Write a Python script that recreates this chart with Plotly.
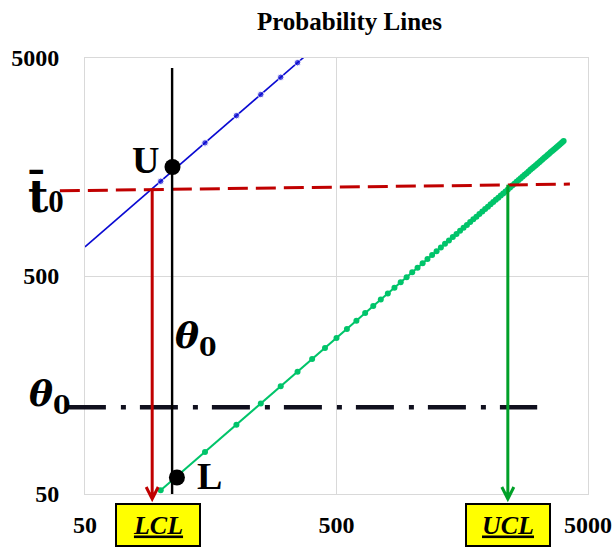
import numpy as np
import plotly.graph_objects as go

# ---- data -------------------------------------------------------------
tick_vals = [50, 500, 5000]
tick_text = ["50", "500", "5000"]

# upper probability line (blue)
blue_x = [50, 100, 150, 200, 250, 300, 350, 400]
blue_y = [680, 1360, 2040, 2720, 3400, 4080, 4760, 5440]

# lower probability line (green)
green_x = [100, 150, 200, 250, 300, 350, 400, 450, 500, 550, 600, 650, 700,
           750, 800, 850, 900, 950, 1000, 1050, 1100, 1150, 1200, 1250, 1300,
           1350, 1400, 1450, 1500, 1550, 1600, 1650, 1700, 1750, 1800, 1850,
           1900, 1950, 2000, 2050, 2100, 2150, 2200, 2250, 2300, 2350, 2400,
           2450, 2500, 2550, 2600, 2650, 2700, 2750, 2800, 2850, 2900, 2950,
           3000, 3050, 3100, 3150, 3200, 3250, 3300, 3350, 3400, 3450, 3500,
           3550, 3600, 3650, 3700, 3750, 3800, 3850, 3900, 3950, 4000]
green_y = [52, 78, 104, 130, 156, 182, 208, 234, 260, 286, 312, 338, 364,
           390, 416, 442, 468, 494, 520, 546, 572, 598, 624, 650, 676,
           702, 728, 754, 780, 806, 832, 858, 884, 910, 936, 962,
           988, 1014, 1040, 1066, 1092, 1118, 1144, 1170, 1196, 1222, 1248,
           1274, 1300, 1326, 1352, 1378, 1404, 1430, 1456, 1482, 1508, 1534,
           1560, 1586, 1612, 1638, 1664, 1690, 1716, 1742, 1768, 1794, 1820,
           1846, 1872, 1898, 1924, 1950, 1976, 2002, 2028, 2054, 2080]

t0_bar_ends = [1230, 1320]      # mean-life reference line (left, right)
theta0 = 125                    # theta_0 level
theta_x = 111                   # vertical theta line position
theta_top = 4500
lcl, ucl = 92.5, 2400           # control limits
lcl_top, ucl_top = 1245, 1310   # where the arrows leave the t0 line
u_pt = (111.4, 1581)
l_pt = (116, 59.5)

SERIF = "Liberation Serif"
MATH = "DejaVu Serif"
RED = "#C00000"
GREEN_ARROW = "#00A028"
BLUE = "#0A0AD2"

fig = go.Figure()

fig.add_trace(go.Scatter(
    x=blue_x, y=blue_y, mode="lines+markers",
    line=dict(color=BLUE, width=1.6),
    marker=dict(color=BLUE, size=[6.5] * (len(blue_x) - 1) + [0]),
    cliponaxis=False, hoverinfo="skip", showlegend=False))

fig.add_trace(go.Scatter(
    x=green_x, y=green_y, mode="lines+markers",
    line=dict(color="#00C46A", width=2),
    marker=dict(color="#00C46A", size=6),
    hoverinfo="skip", showlegend=False))

# U and L points
fig.add_trace(go.Scatter(
    x=[u_pt[0], l_pt[0]], y=[u_pt[1], l_pt[1]], mode="markers",
    marker=dict(color="black", size=16), cliponaxis=False,
    hoverinfo="skip", showlegend=False))

shapes = []
# t0 dashed line (extends left past the axis)
shapes.append(dict(type="line", xref="x domain", yref="y",
                   x0=-0.05, x1=0.964, y0=t0_bar_ends[0], y1=t0_bar_ends[1],
                   line=dict(color=RED, width=3, dash="20px,8px")))
# theta0 dash-dot line
shapes.append(dict(type="line", xref="x domain", yref="y",
                   x0=-0.034, x1=0.899, y0=theta0, y1=theta0,
                   line=dict(color="#10101E", width=4.5, dash="38px,15px,5px,14px")))
# vertical theta line
shapes.append(dict(type="line", xref="x", yref="y",
                   x0=theta_x, x1=theta_x, y0=50, y1=theta_top,
                   line=dict(color="black", width=2.4)))
# arrows for LCL and UCL: shaft plus an open "V" head just below the axis
ARM = 1.0565  # half-width of the arrow head as a ratio on the log axis
for xv, top, col in [(lcl, lcl_top, RED), (ucl, ucl_top, GREEN_ARROW)]:
    shapes.append(dict(type="line", xref="x", yref="y",
                       x0=xv, x1=xv, y0=top, y1=50,
                       line=dict(color=col, width=3)))
    xl, xr = xv / ARM, xv * ARM
    shapes.append(dict(type="path", xref="x", yref="y domain",
                       path=(f"M {xl},0.016 L {xv},-0.0115 L {xr},0.016 "
                             f"M {xv},0.004 L {xv},-0.0115"),
                       line=dict(color=col, width=3)))

annotations = []
annotations.append(dict(x=np.log10(u_pt[0]), y=np.log10(u_pt[1]), xref="x", yref="y",
                        text="<b>U</b>", showarrow=False, xshift=-27, yshift=7,
                        font=dict(family=SERIF, size=38, color="black")))
annotations.append(dict(x=np.log10(l_pt[0]), y=np.log10(l_pt[1]), xref="x", yref="y",
                        text="<b>L</b>", showarrow=False, xshift=33, yshift=2,
                        font=dict(family=SERIF, size=38, color="black")))
annotations.append(dict(x=np.log10(theta_x), y=np.log10(268), xref="x", yref="y",
                        xanchor="left", text="<b><i>θ</i></b><sub><b>0</b></sub>",
                        showarrow=False, xshift=1, yshift=-3,
                        font=dict(family=MATH, size=36, color="black")))
annotations.append(dict(x=-0.115, y=np.log10(theta0), xref="x domain", yref="y",
                        xanchor="left", text="<b><i>θ</i></b><sub><b>0</b></sub>",
                        showarrow=False, yshift=11,
                        font=dict(family=MATH, size=36, color="black")))
annotations.append(dict(x=-0.118, y=np.log10(t0_bar_ends[0]), xref="x domain", yref="y",
                        xanchor="left",
                        text=("<b>t\u0304</b><span style='font-family:Liberation Serif;"
                              "font-size:31px'><b>0</b></span>"),
                        showarrow=False, yshift=-5,
                        font=dict(family=MATH, size=44, color="black")))
for xv, label, shift in [(lcl, "LCL", 6), (ucl, "UCL", 0)]:
    annotations.append(dict(x=np.log10(xv), y=-0.07, xref="x", yref="y domain",
                            xanchor="center", yanchor="middle",
                            text=f"<b><i><u>{label}</u></i></b>", showarrow=False,
                            xshift=shift, width=80, height=38, borderpad=1,
                            bgcolor="#FFFF00", bordercolor="black", borderwidth=2,
                            font=dict(family=SERIF, size=26, color="black")))

axis_common = dict(type="log", tickvals=tick_vals, ticktext=tick_text,
                   showgrid=True, gridcolor="#D9D9D9", gridwidth=1,
                   showline=True, linecolor="#D9D9D9", linewidth=1, mirror=True,
                   zeroline=False, ticks="", automargin=False,
                   tickfont=dict(family=SERIF, size=24, color="black", weight="bold"))

fig.update_layout(
    width=613, height=548,
    margin=dict(l=85, r=25, t=58, b=54, autoexpand=False),
    paper_bgcolor="white", plot_bgcolor="white",
    title=dict(text="<b>Probability Lines</b>", x=0.57, xanchor="center",
               y=1 - 21 / 548, yanchor="middle",
               font=dict(family=SERIF, size=25, color="black")),
    xaxis=dict(range=[np.log10(50), np.log10(5000)], ticklabelstandoff=9, **axis_common),
    yaxis=dict(range=[np.log10(50), np.log10(5000)], ticklabelstandoff=20, **axis_common),
    shapes=shapes,
    annotations=annotations,
)

fig.write_html("out.html")
